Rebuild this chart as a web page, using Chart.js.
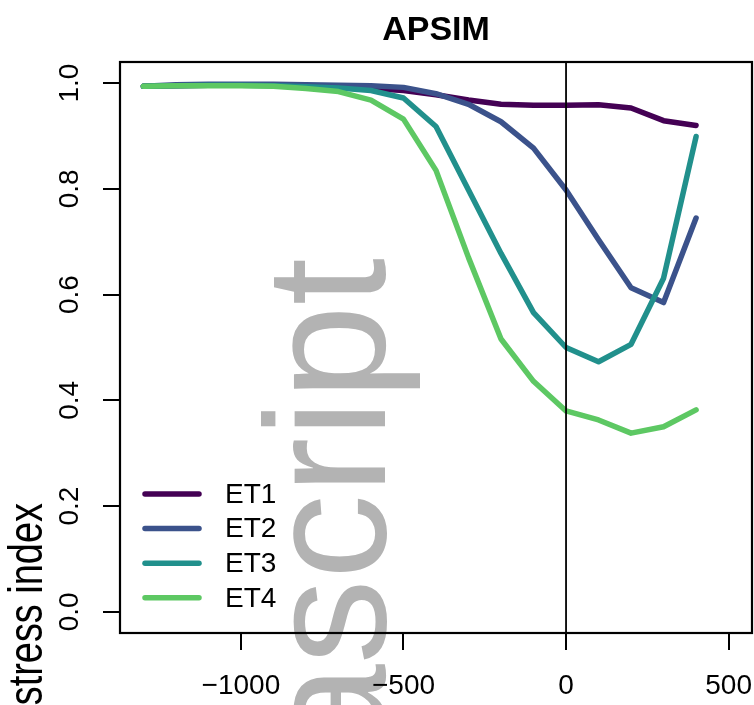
<!DOCTYPE html>
<html>
<head>
<meta charset="utf-8">
<script src="https://cdn.jsdelivr.net/npm/chart.js@4.4.1/dist/chart.umd.min.js"></script>
<style>
  body { margin: 0; background: #ffffff; }
  #wrap { width: 754px; height: 705px; }
</style>
</head>
<body>
<div id="wrap"><canvas id="myChart" width="754" height="705"></canvas></div>
<script>
// data
const distances = [-1300, -1200, -1100, -1000, -900, -800, -700, -600, -500, -400, -300, -200, -100, 0, 100, 200, 300, 400];
const et1 = [0.994, 0.995, 0.996, 0.996, 0.996, 0.995, 0.993, 0.990, 0.986, 0.978, 0.968, 0.960, 0.958, 0.958, 0.959, 0.953, 0.929, 0.920];
const et2 = [0.994, 0.997, 0.998, 0.998, 0.998, 0.997, 0.996, 0.995, 0.992, 0.980, 0.960, 0.927, 0.877, 0.798, 0.704, 0.613, 0.585, 0.745];
const et3 = [0.994, 0.995, 0.996, 0.996, 0.995, 0.993, 0.991, 0.986, 0.972, 0.918, 0.798, 0.678, 0.566, 0.500, 0.473, 0.506, 0.631, 0.899];
const et4 = [0.994, 0.995, 0.995, 0.995, 0.994, 0.990, 0.984, 0.968, 0.932, 0.835, 0.670, 0.516, 0.436, 0.380, 0.363, 0.338, 0.350, 0.382];
const seriesNames = ['ET1', 'ET2', 'ET3', 'ET4'];
const seriesValues = [et1, et2, et3, et4];
const seriesColors = ['#440154', '#3B528B', '#21908C', '#5DC863'];
const xTicks = [-1000, -500, 0, 500];
const yTicks = [0, 0.2, 0.4, 0.6, 0.8, 1.0];
const markerLineAt = 0;
const titleText = 'APSIM';
const yTitle = 'stress index';
const bigText = 'javascript';

const FONT = '"Liberation Sans", Arial, Helvetica, sans-serif';

const datasets = seriesNames.map((name, i) => ({
    label: name,
    data: distances.map((d, j) => ({ x: d, y: seriesValues[i][j] })),
    borderColor: seriesColors[i],
    backgroundColor: seriesColors[i],
    borderWidth: 5.5,
    borderCapStyle: 'round',
    borderJoinStyle: 'round',
    pointRadius: 0,
    tension: 0,
    fill: false,
    order: seriesNames.length - i   // ET4 on top
}));

const decorPlugin = {
    id: 'decor',
    beforeDraw(chart) {
        const ctx = chart.ctx;
        ctx.save();
        ctx.fillStyle = '#ffffff';
        ctx.fillRect(0, 0, chart.width, chart.height);
        // big grey text behind everything
        ctx.translate(385, 258);
        ctx.rotate(-Math.PI / 2);
        ctx.fillStyle = '#b3b3b3';
        ctx.font = '170px ' + FONT;
        ctx.textAlign = 'right';
        ctx.textBaseline = 'alphabetic';
        ctx.fillText(bigText, 0, 0);
        ctx.restore();
    },
    afterDraw(chart) {
        const ctx = chart.ctx;
        const area = chart.chartArea;
        const xs = chart.scales.x;
        ctx.save();
        // vertical line at 0
        const px = xs.getPixelForValue(markerLineAt);
        ctx.strokeStyle = '#000000';
        ctx.lineWidth = 1.8;
        ctx.beginPath();
        ctx.moveTo(px, area.top);
        ctx.lineTo(px, area.bottom);
        ctx.stroke();
        // box
        ctx.lineWidth = 2.2;
        ctx.strokeRect(area.left, area.top, area.right - area.left, area.bottom - area.top);
        // title
        ctx.fillStyle = '#000000';
        ctx.font = 'bold 34px ' + FONT;
        ctx.textAlign = 'center';
        ctx.textBaseline = 'alphabetic';
        ctx.fillText(titleText, (area.left + area.right) / 2, 39.5);
        // y title
        ctx.save();
        ctx.translate(42, 503);
        ctx.rotate(-Math.PI / 2);
        ctx.scale(0.79, 1);
        ctx.font = '48px ' + FONT;
        ctx.textAlign = 'right';
        ctx.fillText(yTitle, 0, 0);
        ctx.restore();
        // legend
        ctx.font = '28px ' + FONT;
        ctx.textAlign = 'left';
        ctx.textBaseline = 'middle';
        ctx.lineCap = 'round';
        seriesNames.forEach((name, i) => {
            const y = 494 + i * 34.6;
            ctx.strokeStyle = seriesColors[i];
            ctx.lineWidth = 5.5;
            ctx.beginPath();
            ctx.moveTo(145, y);
            ctx.lineTo(199, y);
            ctx.stroke();
            ctx.fillStyle = '#000000';
            ctx.fillText(name, 225, y + 1);
        });
        ctx.restore();
    }
};

const ctx = document.getElementById('myChart').getContext('2d');
new Chart(ctx, {
    type: 'line',
    data: { datasets: datasets },
    options: {
        responsive: false,
        animation: false,
        layout: { padding: { top: 62, right: 2, left: 0, bottom: 0 } },
        plugins: {
            legend: { display: false },
            title: { display: false },
            tooltip: { enabled: false }
        },
        scales: {
            x: {
                type: 'linear',
                min: -1372,
                max: 572,
                bounds: 'data',
                afterBuildTicks: s => { s.ticks = xTicks.map(v => ({ value: v })); },
                afterFit: s => { s.height = 72; s.paddingLeft = 0; s.paddingRight = 0; },
                border: { display: false },
                grid: {
                    drawOnChartArea: false,
                    drawTicks: true,
                    tickLength: 17,
                    color: '#000000',
                    lineWidth: 2
                },
                ticks: {
                    color: '#000000',
                    font: { family: FONT, size: 28 },
                    padding: 19,
                    maxRotation: 0,
                    autoSkip: false,
                    callback: v => (v < 0 ? '\u2212' + Math.abs(v) : String(v))
                }
            },
            y: {
                type: 'linear',
                min: -0.04,
                max: 1.04,
                bounds: 'data',
                afterBuildTicks: s => { s.ticks = yTicks.map(v => ({ value: v })); },
                afterFit: s => { s.width = 120; s.paddingTop = 0; s.paddingBottom = 0; },
                border: { display: false },
                grid: {
                    drawOnChartArea: false,
                    drawTicks: true,
                    tickLength: 17,
                    color: '#000000',
                    lineWidth: 2
                },
                ticks: {
                    color: '#000000',
                    font: { family: FONT, size: 28 },
                    padding: 13.5,
                    minRotation: 90,
                    maxRotation: 90,
                    crossAlign: 'center',
                    autoSkip: false,
                    callback: v => Number(v).toFixed(1)
                }
            }
        }
    },
    plugins: [decorPlugin]
});
</script>
</body>
</html>
